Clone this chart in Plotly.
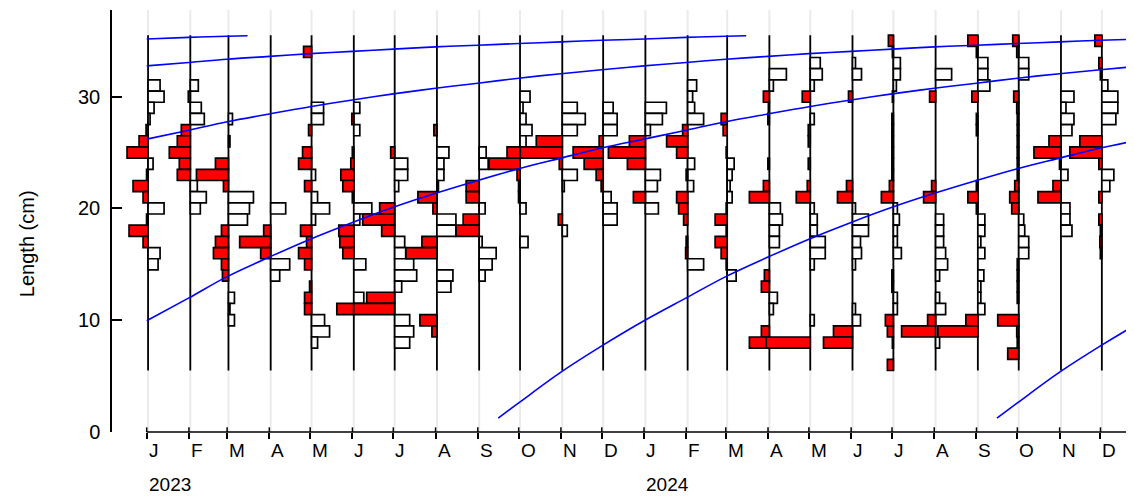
import numpy as np
import pandas as pd
import plotly.graph_objects as go

# ---------------- data ----------------
origin = pd.Timestamp("2023-01-01")

sample_dates = ["2023-01-02", "2023-02-02", "2023-03-02", "2023-04-02", "2023-05-02", "2023-06-02",
                "2023-07-02", "2023-08-02", "2023-09-02", "2023-10-02", "2023-11-02", "2023-12-02",
                "2024-01-02", "2024-02-02", "2024-03-02", "2024-04-02", "2024-05-02", "2024-06-02",
                "2024-07-02", "2024-08-02", "2024-09-02", "2024-10-02", "2024-11-02", "2024-12-02"]

month_letters = ["J", "F", "M", "A", "M", "J", "J", "A", "S", "O", "N", "D"] * 2
year_labels = ["2023", "2024"]
year_dates = ["2023-01-01", "2024-01-01"]

y_ticks = [0, 10, 20, 30]

# length classes (cm, class mid-lengths), listed from top (35) to bottom (6)
length_bins = list(range(35, 5, -1))

# restructured frequency scores per sample (positive = red to the left, negative = white to the right)
s_2023_01 = [0, 0, 0, 0, -12, -16, -6, -2, 2, 9, 21, -5, 1.5, 15, 5, -16, 1.5, 19, 5, -12, -10, 0, 0, 0, 0, 0, 0, 0, 0, 0]
s_2023_02 = [0, 0, 0, 0, -8, 2, -11, -14, 9, 13, 21, 11, 13, -7, -16, -10, 0, 0, 0, 0, 0, 0, 0, 0, 0, 0, 0, 0, 0, 0]
s_2023_03 = [0, 0, 0, 0, 0, 0, 0, -4, 0, -1.5, 0, 13, 32, 5, -25, -21, -19, 7, 13, 15, 7, 6, 0, -6, -1.5, -6, 0, 0, 0, 0]
s_2023_04 = [0, 0, 0, 0, 0, 0, 0, 0, 0, 0, 0, 0, 0, 0, 0, -15, 0, 7, 31, 10, -19, -9, 0, 0, 0, 0, 0, 0, 0, 0]
s_2023_05 = [0, 8, 0, 0, 0, 0, -12, -12, 3, 0, 9, 13, -4, 7, -6, -18, -4, 11, 5, 13, 7, 0, 2, 7, 7, -13, -18, -6, 0, 0]
s_2023_06 = [0, 0, 0, 0, 0, 0, -6, 2, -6, 0, 1.5, 3, 13, 11, 1.5, -18, -6, 15, 14, 11, -12, 0, 0, -10, 17, 0, 0, 0, 0, 0]
s_2023_07 = [0, 0, 0, 0, 0, 0, 0, 0, 0, 0, 4, -13, -13, -4, 0, 15, 32, 13, -10, -11, -19, -22, -7, 28, 41, -15, -19, -15, 0, 0]
s_2023_08 = [0, 0, 0, 0, 0, 0, 0, 0, 3, 0, -12, -7, -7, -1.5, 19, 4, -19, -19, 15, 31, 0, -16, -14, 0, 0, 17, 5, 0, 0, 0]
s_2023_09 = [0, 0, 0, 0, 0, 0, 0, 0, 0, 0, -7, -9, 0, 13, 13, -6, 16, 23, -3, -17, -13, -6, 0, 0, 0, 0, 0, 0, 0, 0]
s_2023_10 = [0, 0, 0, 0, 0, -10, -3, -6, -12, -6, 13, 31, 3, 1.5, 1.5, -6, 0, 0, -8, 0, 0, 0, 0, 0, 0, 0, 0, 0, 0, 0]
s_2023_11 = [0, 0, 0, 0, 0, 0, -15, -23, -15, 26, 42, 3, -15, -2, 0, 0, 4, -5, 0, 0, 0, 0, 0, 0, 0, 0, 0, 0, 0, 0]
s_2023_12 = [0, 0, 0, 0, 0, 0, -10, -14, -14, 4, 30, 19, 7, 2, -8, -14, -14, 0, 0, 0, 0, 0, 0, 0, 0, 0, 0, 0, 0, 0]
s_2024_01 = [0, 0, 0, 0, 0, 0, -21, -17, -5, 16, 37, 18, -15, -12, 12, -13, 0, 0, 0, 0, 0, 0, 0, 0, 0, 0, 0, 0, 0, 0]
s_2024_02 = [0, 0, 0, 0, -9, -5, -7, -16, 5, 21, 11, -7, 1.5, -6, 11, 9, 4, 0, 1.5, 2, -16, 0, 0, 0, 0, 0, 0, 0, 0, 0]
s_2024_03 = [0, 0, 0, 0, 0, 0, 0, 6, 4, 0, 1, -7, -5, -3, -5, 1, 12, 1, 12, 6, 1, -9, 0, 0, 0, 0, 0, 0, 0, 0]
s_2024_04 = [0, 0, 0, -17, -4, 6, 1, 1.5, 0, 0, 0, 1.5, 0, 6, 20, -11, -13, -10, -10, 0, 0, 5, 8, -8, -4, 0, 8, 20, 0, 0]
s_2024_05 = [0, 0, -10, -12, -4, 8, 0, -4, 2, 2, 0, 2, 0, 3, 14, -4, -7, -7, -15, -15, -4, 0, 0, 0, 0, -4, 0, 44, 0, 0]
s_2024_06 = [0, 0, -3, -9, 0, 4, 0, 0, 0, 0, 0, 0, 0, 6, 15, -3, -16, -16, -8, -9, -3, 0, 0, 0, -3, -8, 19, 29, 0, 0]
s_2024_07 = [5, 1, -7, -7, -3, 1, 0, 1.5, 1.5, 1.5, 1.5, 1.5, 1.5, 4, 12, -4, -6, -4, -4, -8, 0, 1.5, 1.5, -4, -4, 8, 6, 1, 0, 6]
s_2024_08 = [0, 0, 0, -16, 0, 6, 0, 0, 0, 0, 0, 0, 0, 4, 12, 0, -8, -8, -8, -10, -12, -4, 0, -4, -10, 8, 34, -4, 0, 0]
s_2024_09 = [10, 1.5, -10, -10, -12, 6, 0, 1.5, 1.5, 0, 0, 0, 0, 1.5, 10, 1.5, -7, -7, -3, -7, 0, -6, -3, -3, -7, 12, 40, 0, 0, 0]
s_2024_10 = [6, 2, -10, -10, 0, 5, 2, 1.5, 1.5, 1.5, 1.5, 1.5, 1.5, 4, 9, 7, -5, -6, -10, -10, 1.5, 1.5, 1.5, 1.5, 0, 21, 2, 1.5, 11, 0]
s_2024_11 = [0, 0, 0, 0, 0, -13, -5, -13, -11, 12, 27, 1.5, -7, 8, 23, -9, -9, -11, 0, 0, 0, 0, 0, 0, 0, 0, 0, 0, 0, 0]
s_2024_12 = [7, 0, 3, 1.5, -6, -16, -16, -14, 0, 22, 32, 3, -12, -8, 3, 0, 3, 1.5, 2, 1.5, 0, 0, 0, 0, 0, 0, 0, 0, 0, 0]

# growth curve (length at age; age in months counted from 1 October of the cohort year)
growth_age_months = [-0.5, 0, 1, 2, 3, 4, 5, 6, 7, 8, 9, 10, 11, 12, 13, 14, 15, 16, 17, 18, 19, 20,
                     21, 22, 23, 24, 25, 26, 27, 28, 29, 30, 31, 32, 33, 34, 35, 36, 37, 38, 39, 40, 41, 41.5]
growth_length_cm = [1.25, 2.6, 5.35, 7.7, 9.95, 12.0, 13.9, 15.65, 17.25, 18.75, 20.1, 21.35, 22.5, 23.55,
                    24.5, 25.4, 26.2, 27.0, 27.75, 28.45, 29.1, 29.7, 30.25, 30.75, 31.2, 31.65, 32.05, 32.4,
                    32.75, 33.05, 33.35, 33.6, 33.85, 34.05, 34.25, 34.45, 34.6, 34.75, 34.9, 35.05, 35.15,
                    35.3, 35.4, 35.45]
cohort_years = [2019, 2020, 2021, 2022, 2023, 2024]

samples = [s_2023_01, s_2023_02, s_2023_03, s_2023_04, s_2023_05, s_2023_06,
           s_2023_07, s_2023_08, s_2023_09, s_2023_10, s_2023_11, s_2023_12,
           s_2024_01, s_2024_02, s_2024_03, s_2024_04, s_2024_05, s_2024_06,
           s_2024_07, s_2024_08, s_2024_09, s_2024_10, s_2024_11, s_2024_12]

# ---------------- styling / scale ----------------
score_scale = 0.734          # x-axis days per score unit
x_range = [-25.47, 724.6]
y_range = [0, 37.75]
FONT = "Liberation Sans, Arial, Helvetica, sans-serif"
FS = 20


def to_day(d):
    return (pd.Timestamp(d) - origin).days


sample_days = [to_day(d) for d in sample_dates]
month_days = [to_day(d) for d in pd.date_range("2023-01-01", "2024-12-01", freq="MS")]

fig = go.Figure()

# histogram bars, one trace per sample so later samples overlay earlier ones
for day, vals in zip(sample_days, samples):
    ys, xs, cols = [], [], []
    for b, v in zip(length_bins, vals):
        if v == 0:
            continue
        ys.append(b)
        xs.append(-v * score_scale)
        cols.append("#FF0000" if v > 0 else "#FFFFFF")
    fig.add_trace(go.Bar(orientation="h", y=ys, x=xs, base=day, width=1,
                         marker=dict(color=cols, line=dict(color="black", width=1.7)),
                         showlegend=False, hoverinfo="skip"))

# growth curves
for yr in cohort_years:
    start = pd.Timestamp(f"{yr}-10-01")
    xs, ys = [], []
    for a, L in zip(growth_age_months, growth_length_cm):
        fa = int(np.floor(a))
        d = start + pd.DateOffset(months=fa) + pd.Timedelta(days=round((a - fa) * 30))
        dd = (d - origin).days
        if dd >= 0:
            xs.append(dd)
            ys.append(L)
    if xs:
        fig.add_trace(go.Scatter(x=xs, y=ys, mode="lines", line=dict(color="#0000FF", width=1.6, shape="spline"),
                                 showlegend=False, hoverinfo="skip"))

shapes = []
# light grey vertical lines at sample dates
for day in sample_days:
    shapes.append(dict(type="line", xref="x", yref="paper", x0=day, x1=day, y0=0, y1=1,
                       line=dict(color="#EBEBEB", width=2), layer="below"))
# black baselines of each sample
for day in sample_days:
    shapes.append(dict(type="line", xref="x", yref="y", x0=day, x1=day,
                       y0=min(length_bins) - 0.5, y1=max(length_bins) + 0.5,
                       line=dict(color="black", width=1.8), layer="below"))
# x axis line starting at the first tick
shapes.append(dict(type="line", xref="x", yref="paper", x0=month_days[0], x1=x_range[1], y0=0, y1=0,
                   line=dict(color="black", width=1.5)))
# upper half of the x ticks (ticks cross the axis line)
for day in month_days:
    shapes.append(dict(type="line", xref="x", yref="paper", x0=day, x1=day, y0=0, y1=0.011,
                       line=dict(color="black", width=1.5)))

annotations = []
for day, lab in zip(month_days, month_letters):
    annotations.append(dict(x=day, y=-0.0427, xref="x", yref="paper", text=lab, showarrow=False,
                            xanchor="left", yanchor="middle", font=dict(size=FS - 1, family=FONT, color="black")))
for d, lab in zip(year_dates, year_labels):
    annotations.append(dict(x=to_day(d), y=-0.124, xref="x", yref="paper", text=lab, showarrow=False,
                            xanchor="left", yanchor="middle", font=dict(size=FS - 1, family=FONT, color="black")))
annotations.append(dict(x=-0.083, y=0.4455, xref="paper", yref="paper", text="Length (cm)", showarrow=False,
                        textangle=-90, xanchor="center", yanchor="middle",
                        font=dict(size=FS, family=FONT, color="black")))

# the page body has an 8px margin: the figure is sized so that it ends at the window edges
fig.update_layout(
    width=1126, height=488,
    margin=dict(l=104, r=0, t=2, b=64),
    plot_bgcolor="white", paper_bgcolor="white",
    barmode="overlay", showlegend=False,
    font=dict(family=FONT, size=FS, color="black"),
    shapes=shapes, annotations=annotations,
    xaxis=dict(range=x_range, tickmode="array", tickvals=month_days, ticks="outside", ticklen=6,
               tickwidth=1.5, tickcolor="black", showticklabels=False, showgrid=False,
               zeroline=False, showline=False),
    yaxis=dict(range=y_range, tickmode="array", tickvals=y_ticks, ticks="inside", ticklen=10,
               tickwidth=1.5, tickcolor="black", showline=True, linecolor="black", linewidth=1.5,
               showgrid=False, zeroline=False, ticklabelstandoff=6,
               tickfont=dict(size=FS, family=FONT, color="black")),
)

fig.write_html("out.html")
